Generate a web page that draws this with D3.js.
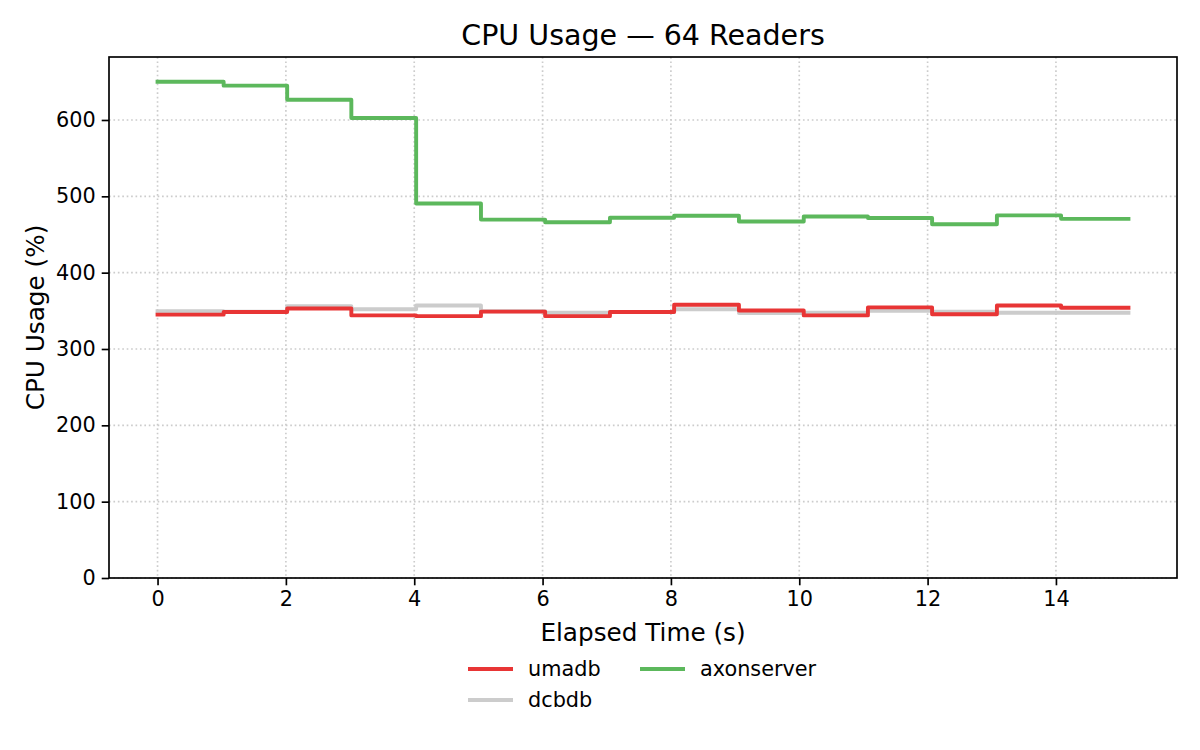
<!DOCTYPE html>
<html>
<head>
<meta charset="utf-8">
<script src="https://cdn.jsdelivr.net/npm/d3@7/dist/d3.min.js"></script>
<style>
  html, body { margin: 0; padding: 0; background: #ffffff; }
  svg { display: block; font-family: "DejaVu Sans", sans-serif; }
</style>
</head>
<body>
<svg id="chart" width="1200" height="750"></svg>
<script>
// ---- data ----
const times = [0, 1.03, 2.02, 3.02, 4.03, 5.04, 6.04, 7.05, 8.05, 9.06, 10.07, 11.07, 12.07, 13.08, 14.08, 15.13];
const umadb = [345, 348.5, 353, 344, 343, 349, 343, 348.5, 358, 350.5, 344, 354.5, 345.5, 357, 354, 354];
const dcbdb = [349.5, 349, 356, 352, 357, 349.5, 347.5, 348.5, 352, 347, 347.5, 350, 349, 347.5, 347.5, 347.5];
const axonserver = [650, 645, 626.5, 602.5, 490.5, 469.5, 466, 472, 474.5, 467, 473.5, 471.5, 463.5, 475, 470.5, 470.5];
const seriesNames = ["umadb", "dcbdb", "axonserver"];
const seriesColors = { umadb: "#e83535", dcbdb: "#cccccc", axonserver: "#5cb85c" };
const xTicks = [0, 2, 4, 6, 8, 10, 12, 14];
const yTicks = [0, 100, 200, 300, 400, 500, 600];
const titleText = "CPU Usage — 64 Readers";
const xLabel = "Elapsed Time (s)";
const yLabel = "CPU Usage (%)";

const seriesData = { umadb, dcbdb, axonserver };

// ---- layout ----
const svg = d3.select("#chart");
const plot = { left: 109, top: 57, right: 1177, bottom: 578 };

const xMin = d3.min(times), xMax = d3.max(times);
const xPad = (xMax - xMin) * 0.05;
const allY = [].concat(umadb, dcbdb, axonserver);
const yMax = d3.max(allY);
const x = d3.scaleLinear().domain([xMin - xPad, xMax + xPad]).range([plot.left, plot.right]);
const y = d3.scaleLinear().domain([0, yMax * 1.05]).range([plot.bottom, plot.top]);

// grid
const grid = svg.append("g").attr("class", "grid");
grid.selectAll("line.gx").data(xTicks).enter().append("line")
  .attr("x1", d => x(d)).attr("x2", d => x(d))
  .attr("y1", plot.top).attr("y2", plot.bottom)
  .attr("stroke", "#cccccc").attr("stroke-width", 1.67).attr("stroke-dasharray", "1.67,2.75");
grid.selectAll("line.gy").data(yTicks).enter().append("line")
  .attr("y1", d => y(d)).attr("y2", d => y(d))
  .attr("x1", plot.left).attr("x2", plot.right)
  .attr("stroke", "#cccccc").attr("stroke-width", 1.67).attr("stroke-dasharray", "1.67,2.75");

// lines
const line = d3.line().curve(d3.curveStepAfter)
  .x(d => x(d[0])).y(d => y(d[1]));
const drawOrder = ["dcbdb", "umadb", "axonserver"];
const linesG = svg.append("g");
drawOrder.forEach(name => {
  const pts = times.map((t, i) => [t, seriesData[name][i]]);
  linesG.append("path")
    .datum(pts)
    .attr("d", line)
    .attr("fill", "none")
    .attr("stroke", seriesColors[name])
    .attr("stroke-width", 3.9)
    .attr("stroke-linejoin", "round")
    .attr("stroke-linecap", "square");
});

// axes
const xAxis = d3.axisBottom(x).tickValues(xTicks).tickSize(7.3).tickPadding(6).tickFormat(d3.format("d"));
const yAxis = d3.axisLeft(y).tickValues(yTicks).tickSize(7.3).tickPadding(6).tickFormat(d3.format("d"));

const gx = svg.append("g").attr("transform", `translate(0,${plot.bottom})`).call(xAxis);
const gy = svg.append("g").attr("transform", `translate(${plot.left},0)`).call(yAxis);
[gx, gy].forEach(g => {
  g.select(".domain").remove();
  g.selectAll(".tick line").attr("stroke", "#000").attr("stroke-width", 1.67);
  g.selectAll(".tick text").attr("fill", "#000").style("font-size", "20.8px").style("font-family", "DejaVu Sans");
});

// frame
svg.append("rect")
  .attr("x", plot.left).attr("y", plot.top)
  .attr("width", plot.right - plot.left).attr("height", plot.bottom - plot.top)
  .attr("fill", "none").attr("stroke", "#000").attr("stroke-width", 1.67);

// title & labels
svg.append("text").attr("x", (plot.left + plot.right) / 2).attr("y", 45)
  .attr("text-anchor", "middle").style("font-size", "28.5px").attr("fill", "#000").text(titleText);
svg.append("text").attr("x", (plot.left + plot.right) / 2).attr("y", 641)
  .attr("text-anchor", "middle").style("font-size", "24.7px").attr("fill", "#000").text(xLabel);
svg.append("text")
  .attr("transform", `translate(44,${(plot.top + plot.bottom) / 2}) rotate(-90)`)
  .attr("text-anchor", "middle").style("font-size", "24.7px").attr("fill", "#000").text(yLabel);

// legend (2 columns, filled column-wise)
const legendItems = [
  { name: "umadb", hx: 468, ty: 669 },
  { name: "dcbdb", hx: 468, ty: 700 },
  { name: "axonserver", hx: 640, ty: 669 }
];
const lg = svg.append("g");
legendItems.forEach(it => {
  lg.append("line")
    .attr("x1", it.hx).attr("x2", it.hx + 45)
    .attr("y1", it.ty).attr("y2", it.ty)
    .attr("stroke", seriesColors[it.name]).attr("stroke-width", 3.9)
    .attr("stroke-linecap", "butt");
  lg.append("text")
    .attr("x", it.hx + 60).attr("y", it.ty)
    .attr("dominant-baseline", "central")
    .style("font-size", "20.8px").attr("fill", "#000")
    .text(it.name);
});
</script>
</body>
</html>
